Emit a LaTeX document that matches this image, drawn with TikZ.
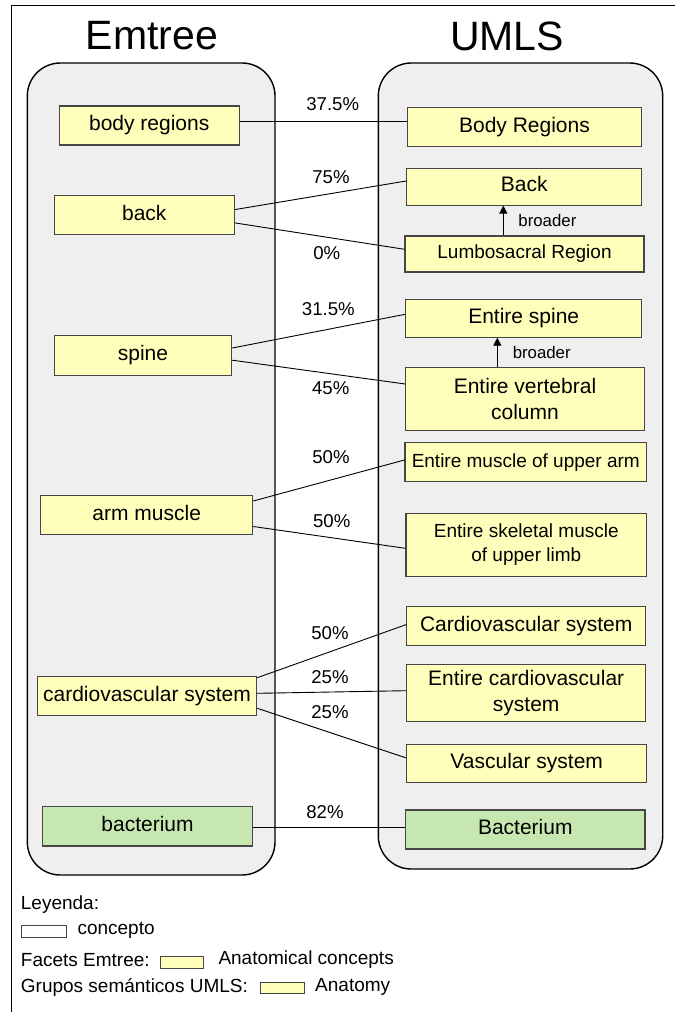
\documentclass[tikz,border=0pt]{standalone}
\usepackage{fontspec}
\setmainfont{Liberation Sans}
\usetikzlibrary{arrows.meta}
\definecolor{panelgray}{RGB}{239,239,239}
\definecolor{anatyellow}{RGB}{255,255,187}
\definecolor{bactgreen}{RGB}{198,232,176}
\definecolor{boxedge}{RGB}{70,70,70}

\begin{document}
\begin{tikzpicture}[x=1pt,y=-1pt,
  every node/.style={inner sep=0pt, font=\fontsize{21}{26}\selectfont},
  concept/.style={draw=boxedge, line width=1.1pt, fill=anatyellow},
  bact/.style={concept, fill=bactgreen},
  oneline/.style={text height=15pt, text depth=4.5pt},
  smaller/.style={font=\fontsize{19}{24}\selectfont},
  pct/.style={font=\fontsize{18.6}{22}\selectfont},
  lgd/.style={font=\fontsize{19}{22}\selectfont, anchor=base west},
  link/.style={line width=0.9pt},
  broader/.style={line width=0.9pt, -{Triangle[length=8pt,width=8pt]}},
  panel/.style={draw=black, line width=1.4pt, fill=panelgray, rounded corners=33pt}]
\useasboundingbox (0,0) rectangle (675,1012);
\draw[line width=0.9pt] (11,1012) -- (11,5) -- (675,5);

% the two vocabularies
\node[font=\fontsize{41}{48}\selectfont] (tEmtree) at (152,36) {Emtree};
\node[font=\fontsize{41}{48}\selectfont] (tUmls) at (507,36) {UMLS};
\draw[panel] (27.3,63) rectangle (275,875);
\draw[panel] (378.3,63) rectangle (662.7,869);

% Emtree terms
\node[concept, oneline, minimum width=180pt, minimum height=39pt] (eBody) at (149.2,125.5) {body regions};
\node[concept, oneline, minimum width=180pt, minimum height=39pt] (eBack) at (144.3,215) {back};
\node[concept, oneline, minimum width=177.4pt, minimum height=39.3pt] (eSpine) at (143,355.4) {spine};
\node[concept, oneline, minimum width=212pt, minimum height=39pt] (eArm) at (146.7,515) {arm muscle};
\node[concept, oneline, minimum width=219.4pt, minimum height=39.7pt] (eCardio) at (147,696) {cardiovascular system};
\node[bact, oneline, minimum width=209.6pt, minimum height=39.3pt] (eBact) at (147.5,826.3) {bacterium};

% UMLS concepts
\node[concept, oneline, minimum width=234pt, minimum height=38.4pt] (uBody) at (524.5,127) {Body Regions};
\node[concept, oneline, minimum width=235pt, minimum height=36.7pt] (uBack) at (524.2,186.7) {Back};
\node[concept, smaller, text height=13.6pt, text depth=4pt, minimum width=239pt, minimum height=36pt] (uLumbo) at (524.5,254) {Lumbosacral Region};
\node[concept, oneline, minimum width=236pt, minimum height=37.5pt] (uSpine) at (523.7,318.4) {Entire spine};
\node[concept, align=center, minimum width=238.6pt, minimum height=63.2pt] (uColumn) at (525,399.1) {Entire vertebral\\column};
\node[concept, smaller, text height=13.6pt, text depth=4pt, minimum width=241.7pt, minimum height=39.3pt] (uArm) at (525.8,462.2) {Entire muscle of upper arm};
\node[concept, smaller, align=center, minimum width=240.7pt, minimum height=63.4pt] (uLimb) at (526.3,545) {Entire skeletal muscle\\of upper limb};
\node[concept, oneline, minimum width=239pt, minimum height=38.6pt] (uCardio) at (526.2,626.1) {Cardiovascular system};
\node[concept, align=center, minimum width=239pt, minimum height=57.2pt] (uCardioAll) at (526.2,693.2) {Entire cardiovascular\\system};
\node[concept, oneline, minimum width=240pt, minimum height=38.6pt] (uVasc) at (526.7,763.6) {Vascular system};
\node[bact, oneline, minimum width=239.3pt, minimum height=39pt] (uBact) at (525.3,829.5) {Bacterium};

% mappings
\draw[link] ([yshift=3.8pt]eBody.east) -- ([yshift=5.3pt]uBody.west);
\draw[link] ([yshift=5.4pt]eBack.east) -- ([yshift=5.7pt]uBack.west);
\draw[link] ([yshift=-7.9pt]eBack.east) -- ([yshift=4.7pt]uLumbo.west);
\draw[link] ([yshift=7.4pt]eSpine.east) -- ([yshift=4.1pt]uSpine.west);
\draw[link] ([yshift=-4.8pt]eSpine.east) -- ([yshift=15.1pt]uColumn.west);
\draw[link] ([yshift=14pt]eArm.east) -- ([yshift=2.2pt]uArm.west);
\draw[link] ([yshift=-11.5pt]eArm.east) -- ([yshift=-3.3pt]uLimb.west);
\draw[link] ([yshift=18.3pt]eCardio.east) -- ([yshift=1.5pt]uCardio.west);
\draw[link] ([yshift=2.7pt]eCardio.east) -- ([yshift=2.5pt]uCardioAll.west);
\draw[link] ([yshift=-12.3pt]eCardio.east) -- ([yshift=5.7pt]uVasc.west);
\draw[link] ([yshift=-1pt]eBact.east) -- ([yshift=2.2pt]uBact.west);

\node[pct] (p1) at (332.7,104) {37.5\%};
\node[pct] (p2) at (331,177.3) {75\%};
\node[pct] (p3) at (326.7,252.7) {0\%};
\node[pct] (p4) at (328.3,309.3) {31.5\%};
\node[pct] (p5) at (330.7,388.3) {45\%};
\node[pct] (p6) at (331,456.7) {50\%};
\node[pct] (p7) at (331.7,520.7) {50\%};
\node[pct] (p8) at (330,633) {50\%};
\node[pct] (p9) at (330,677) {25\%};
\node[pct] (p10) at (330,712) {25\%};
\node[pct] (p11) at (325,812) {82\%};

% broader relations
\draw[broader] ([xshift=-21.2pt]uLumbo.north) -- ([xshift=-21.2pt]uLumbo.north |- uBack.south)
  node[midway, anchor=west, xshift=14.7pt, font=\fontsize{16.8}{20}\selectfont] (b1) {broader};
\draw[broader] ([xshift=-27.7pt]uColumn.north) -- ([xshift=-27.7pt]uColumn.north |- uSpine.south)
  node[midway, anchor=west, xshift=15pt, font=\fontsize{16.8}{20}\selectfont] (b2) {broader};

% legend
\node[lgd] (l0) at (20.7,909.3) {Leyenda:};
\node[draw=boxedge, line width=1pt, fill=white, minimum width=44.3pt, minimum height=12.3pt] (k1) at (43.9,931.2) {};
\node[lgd] (l1) at (77.3,934) {concepto};
\node[lgd] (l2) at (20.7,966) {Facets Emtree:};
\node[concept, line width=1pt, minimum width=43.3pt, minimum height=12.3pt] (k2) at (182.3,962.2) {};
\node[lgd] (l3) at (218.3,964) {Anatomical concepts};
\node[lgd] (l4) at (20.7,992) {Grupos semánticos UMLS:};
\node[concept, line width=1pt, minimum width=44pt, minimum height=11.7pt] (k3) at (282,988) {};
\node[lgd] (l5) at (315,991) {Anatomy};
\end{tikzpicture}
\end{document}
